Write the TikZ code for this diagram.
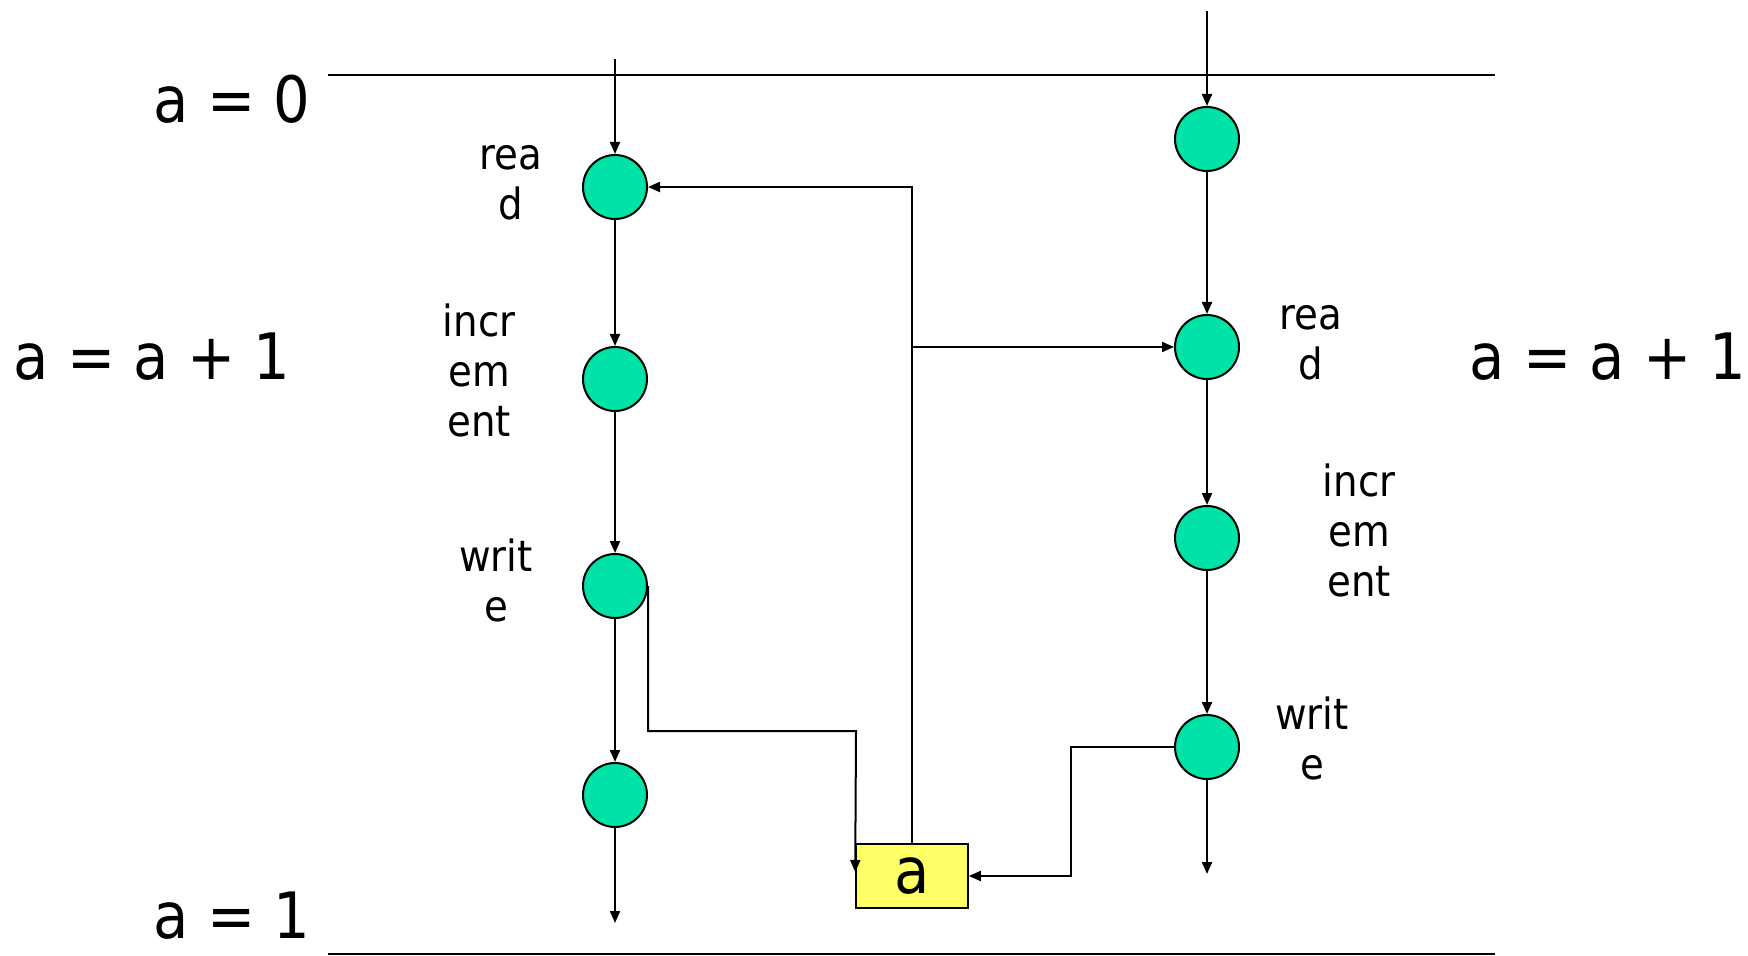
\documentclass[tikz,border=0pt]{standalone}
\usepackage{fontspec}
\setmainfont{DejaVu Sans Condensed}
\usetikzlibrary{arrows.meta}
\definecolor{nodegreen}{RGB}{0,226,168}
\definecolor{boxyellow}{RGB}{255,255,102}
\begin{document}
\begin{tikzpicture}[x=0.5pt,y=-0.5pt,
 evt/.style={circle,draw,line width=1pt,fill=nodegreen,minimum size=32pt,inner sep=0pt},
 conn/.style={line width=1pt,-{Triangle[length=6pt,width=5pt]}},
 plain/.style={line width=1pt},
 rule/.style={line width=1.2pt},
 lbl/.style={font=\fontsize{21.5}{25}\selectfont,align=center,inner sep=0pt},
 big/.style={font=\fontsize{32}{38}\selectfont,inner sep=0pt},
 var/.style={draw,line width=1pt,fill=boxyellow,minimum width=55.8pt,minimum height=31.7pt,inner sep=0pt,font=\fontsize{32}{38}\selectfont}]
\useasboundingbox (0,0) rectangle (1748,956);
% horizontal rules
\coordinate (h0a) at (328,75);
\coordinate (h0b) at (1495,75);
\coordinate (h1a) at (328,954);
\coordinate (h1b) at (1495,954);
\draw[rule] (h0a) -- (h0b);
\draw[rule] (h1a) -- (h1b);
% event nodes
\node[evt] (l1) at (615,187) {};
\node[evt] (l2) at (615,379) {};
\node[evt] (l3) at (615,586) {};
\node[evt] (l4) at (615,795) {};
\node[evt] (r1) at (1207,139) {};
\node[evt] (r2) at (1207,347) {};
\node[evt] (r3) at (1207,538) {};
\node[evt] (r4) at (1207,747) {};
\node[var] (a) at (912,876) {a};
% end coordinates
\coordinate (ltop) at (615,59);
\coordinate (lbot) at (615,923);
\coordinate (rtop) at (1207,11);
\coordinate (rbot) at (1207,874);
\coordinate (j) at (912,347);
\coordinate (wl) at (856,731);
\coordinate (wr) at (1071,876);
% timelines
\draw[conn] (ltop) -- (l1);
\draw[conn] (l1) -- (l2);
\draw[conn] (l2) -- (l3);
\draw[conn] (l3) -- (l4);
\draw[conn] (l4) -- (lbot);
\draw[conn] (rtop) -- (r1);
\draw[conn] (r1) -- (r2);
\draw[conn] (r2) -- (r3);
\draw[conn] (r3) -- (r4);
\draw[conn] (r4) -- (rbot);
% data flow
\draw[conn] (a.north) |- (l1);
\draw[conn] (j) -- (r2);
\draw[conn] (l3.east) |- (wl) -- ([yshift=2pt]a.west);
\draw[conn] (r4.west) -| (wr) -- (a.east);
% labels
\node[lbl] (tl1) at (511,183) {rea\\d};
\node[lbl] (tl2) at (479,370) {incr\\em\\ent};
\node[lbl] (tl3) at (496,580) {writ\\e};
\node[lbl] (tr2) at (1311,343) {rea\\d};
\node[lbl] (tr3) at (1359,530) {incr\\em\\ent};
\node[lbl] (tr4) at (1312,738) {writ\\e};
\node[big] (s0) at (232,99) {a = 0};
\node[big] (s1) at (232,916) {a = 1};
\node[big] (sl) at (152,357) {a = a + 1};
\node[big] (sr) at (1608,357) {a = a + 1};
\end{tikzpicture}
\end{document}
